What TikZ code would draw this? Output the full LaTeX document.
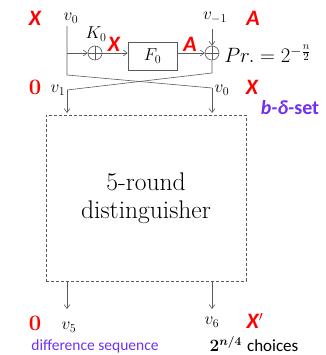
\documentclass[tikz,border=0pt]{standalone}
\usepackage{amsmath}
\usepackage{fontspec}
\newfontfamily\calibri{Carlito}
\usetikzlibrary{arrows.meta}
\definecolor{violeta}{RGB}{112,48,240}
\definecolor{linea}{RGB}{90,90,90}
\tikzset{
  oplus/.style={circle, draw=linea, minimum size=14pt, inner sep=0pt,
    path picture={\draw[linea] (path picture bounding box.north) -- (path picture bounding box.south)
      (path picture bounding box.west) -- (path picture bounding box.east);}},
  rojo/.style={text=red, font=\fontsize{22}{24}\selectfont\calibri\bfseries\itshape},
  cero/.style={text=red, font=\fontsize{22}{24}\selectfont\bfseries},
  vlab/.style={font=\fontsize{17}{19}\selectfont}
}
\begin{document}
\begin{tikzpicture}[x=1pt, y=-1pt, >={Straight Barb[length=4pt,width=6pt]}, line width=0.6pt]
\useasboundingbox (0,0) rectangle (325,355);
% Ronda con F_0 y las dos sumas
\node[oplus] (xk) at (95,53) {};
\node[oplus] (xa) at (212,53) {};
\node[draw=linea, minimum width=49pt, minimum height=28pt, inner sep=0pt,
  font=\fontsize{18}{20}\selectfont] (F) at (152.5,56) {$F_0$};
\coordinate (v0t) at (67,26);
\coordinate (jl) at (67,53);
\coordinate (cl) at (67,75);
\coordinate (cr) at (212,73);
\coordinate (dl) at (67,90);
\coordinate (dr) at (212,88);
\coordinate (il) at (67,113);
\coordinate (ir) at (212,113);
\coordinate (vm) at (212,29);
\draw[linea] (v0t) -- (cl) -- (dr);
\draw[linea, ->] (dr) -- (ir);
\draw[linea] (xa) -- (cr) -- (dl);
\draw[linea, ->] (dl) -- (il);
\draw[linea, ->] (jl) -- (xk);
\draw[linea, ->] (xk) -- (xk -| F.west);
\draw[linea, ->] (xk -| F.east) -- (xa);
\draw[linea, ->] (vm) -- (xa);
% Etiquetas de la ronda
\node[rojo] (X1) at (35,18) {X};
\node[vlab] (v0a) at (71,18) {$v_0$};
\node[vlab] (K0) at (96,34) {$K_0$};
\node[rojo] (X2) at (114,44) {X};
\node[rojo] (A1) at (190,44) {A};
\node[vlab] (vm1) at (215,18) {$v_{-1}$};
\node[rojo] (A2) at (253,18) {A};
\node[anchor=west, inner sep=0pt, font=\fontsize{21}{24}\selectfont] (pr) at (224,54) {$Pr.=2^{-\frac{n}{2}}$};
\node[cero] (c1) at (35,87) {0};
\node[vlab] (v1) at (58,90) {$v_1$};
\node[vlab] (v0b) at (222,90) {$v_0$};
\node[rojo] (X3) at (252,87) {X};
\node[text=violeta, font=\fontsize{20}{22}\selectfont\calibri\bfseries] (bset) at (290,108) {\textit{b-δ-}set};
% Distinguidor de 5 rondas
\node[draw=linea, dash pattern=on 3pt off 2pt, minimum width=200pt, minimum height=166pt,
  align=center, font=\fontsize{25.5}{28}\selectfont] (dist) at (146,198) {5-round\\distinguisher};
\coordinate (o5) at (67,309);
\coordinate (o6) at (212,309);
\draw[linea, ->] (dist.south -| o5) -- (o5);
\draw[linea, ->] (dist.south -| o6) -- (o6);
% Salidas
\node[cero] (c2) at (35,323) {0};
\node[vlab] (v5) at (69,327) {$v_5$};
\node[text=violeta, font=\fontsize{15.5}{18}\selectfont\calibri] (dseq) at (95,346) {difference sequence};
\node[vlab] (v6) at (212,322) {$v_6$};
\node[rojo] (X4) at (255,321) {X$'$};
\node[font=\fontsize{17}{19}\selectfont, inner sep=1pt] (ch) at (254,344) {$\boldsymbol{2^{n/4}}$ {\calibri choices}};
\end{tikzpicture}
\end{document}
